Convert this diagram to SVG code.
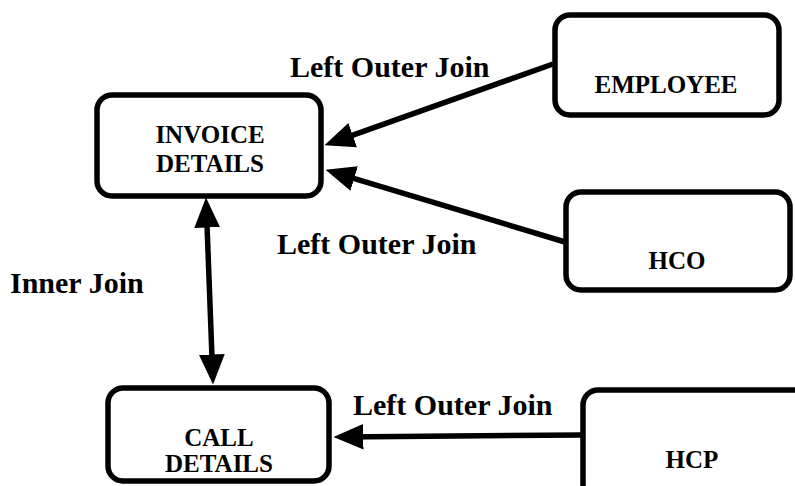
<svg xmlns="http://www.w3.org/2000/svg" width="795" height="486" viewBox="0 0 795 486">
<style>
.box{fill:#fff;stroke:#000;stroke-width:5.5}
.nt{font-family:"Liberation Serif","Times New Roman",serif;font-weight:bold;font-size:25px;text-anchor:middle;fill:#000}
.lbl{font-family:"Liberation Serif","Times New Roman",serif;font-weight:bold;font-size:30px;fill:#000}
.edge{stroke:#000;stroke-width:5.5;fill:none}
</style>
<defs>
<marker id="ah" markerUnits="userSpaceOnUse" markerWidth="30" markerHeight="26" viewBox="0 0 28 24" refX="20" refY="12" orient="auto-start-reverse">
<path d="M0,0 L28,12 L0,24 z" fill="#000"/>
</marker>
</defs>
<rect x="0" y="0" width="795" height="486" fill="#fff"/>
<g id="connectors">
<line class="edge" x1="553" y1="64" x2="332.5" y2="142.3" marker-end="url(#ah)"/>
<line class="edge" x1="565" y1="242" x2="333.7" y2="172.3" marker-end="url(#ah)"/>
<line class="edge" x1="206.3" y1="206" x2="212.7" y2="376" marker-start="url(#ah)" marker-end="url(#ah)"/>
<line class="edge" x1="581" y1="435" x2="342" y2="436.9" marker-end="url(#ah)"/>
<text class="lbl" x="290" y="77">Left Outer Join</text>
<text class="lbl" x="277" y="254">Left Outer Join</text>
<text class="lbl" x="10" y="293">Inner Join</text>
<text class="lbl" x="353" y="415">Left Outer Join</text>
</g>
<g id="invoice">
<rect class="box" x="97" y="95" width="224" height="101" rx="15"/>
<text class="nt" x="210" y="143">INVOICE</text>
<text class="nt" x="210" y="172">DETAILS</text>
</g>
<g id="employee">
<rect class="box" x="555" y="15" width="224" height="100" rx="15"/>
<text class="nt" x="666" y="93">EMPLOYEE</text>
</g>
<g id="hco">
<rect class="box" x="566" y="192" width="224" height="98" rx="15"/>
<text class="nt" x="677" y="269">HCO</text>
</g>
<g id="call">
<rect class="box" x="108" y="388" width="221" height="93" rx="15"/>
<text class="nt" x="219" y="446">CALL</text>
<text class="nt" x="219" y="472">DETAILS</text>
</g>
<g id="hcp">
<rect class="box" x="583" y="390" width="240" height="110" rx="15"/>
<text class="nt" x="692" y="468">HCP</text>
</g>
</svg>
